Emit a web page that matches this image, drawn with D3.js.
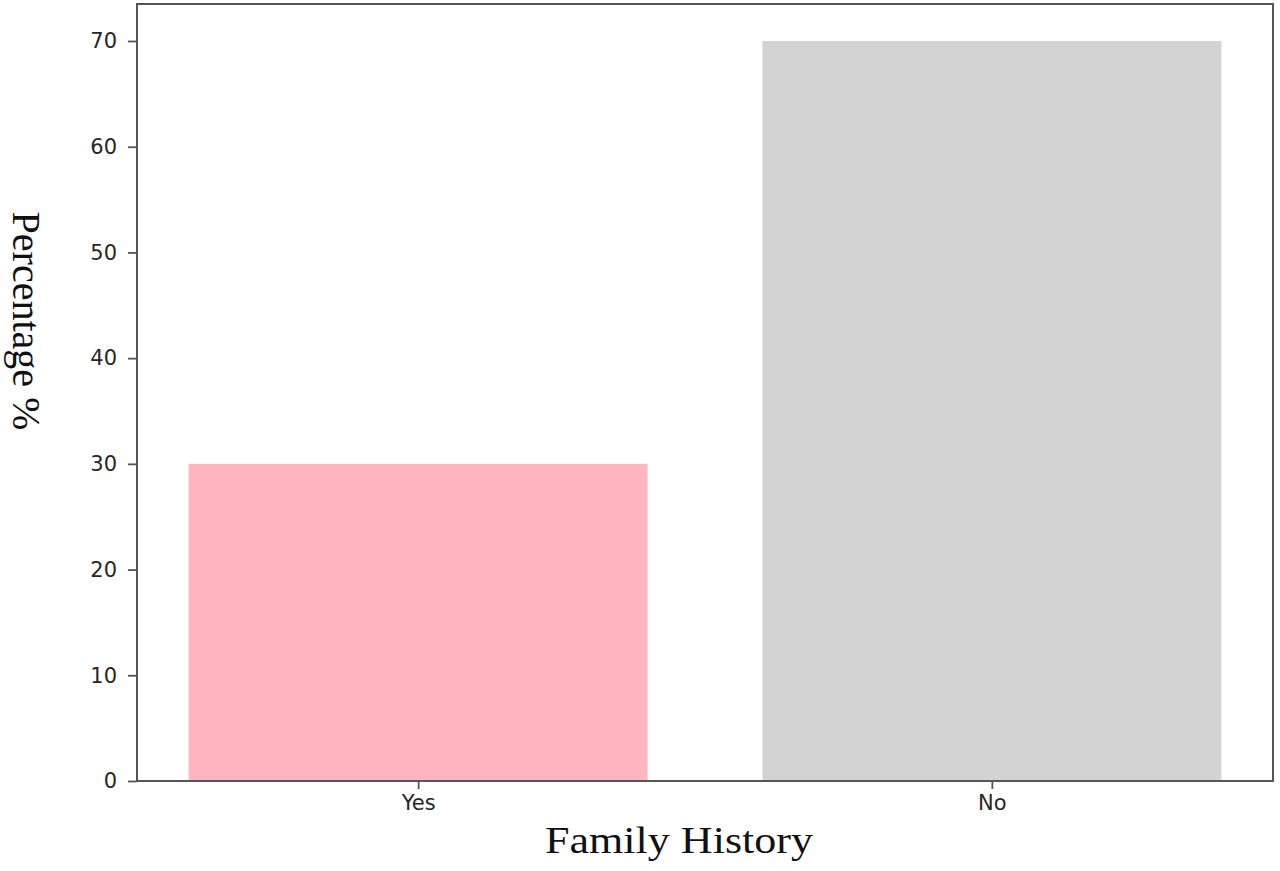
<!DOCTYPE html>
<html>
<head>
<meta charset="utf-8">
<script src="https://cdn.jsdelivr.net/npm/d3@7"></script>
<style>
    body { margin: 0; background: #fff; }
    .tick text { font-family: "DejaVu Sans", sans-serif; fill: #262626; }
</style>
</head>
<body>
<div id="chart"></div>
<script>
const categories = ["Yes", "No"];
const percentages = [30, 70];
const barColors = ["#ffb6c1", "#d3d3d3"];
const yTicks = [0, 10, 20, 30, 40, 50, 60, 70];

// layout
const margin = ({ top: 4, right: 7, bottom: 90, left: 137 })
const width = 1280 - margin.left - margin.right,
    height = 871 - margin.top - margin.bottom;

let svg = d3.select("#chart").append("svg")
    .attr("width", 1280)
    .attr("height", 871)
    .append("g")
    .attr("transform", "translate(" + margin.left + "," + margin.top + ")");

// matplotlib-like limits: bar width 0.8, 5% margins
let xScale = d3.scaleLinear()
    .domain([-0.49, categories.length - 1 + 0.49])
    .range([0, width])

let yScale = d3.scaleLinear()
    .domain([0, d3.max(percentages) * 1.05])
    .range([height, 0])

const barWidth = 0.8;

svg.selectAll(".bar")
    .data(percentages)
    .enter()
    .append("rect")
    .attr("class", "bar")
    .attr("x", (d, i) => xScale(i - barWidth / 2))
    .attr("width", xScale(barWidth) - xScale(0))
    .attr("y", d => yScale(d))
    .attr("height", d => yScale(0) - yScale(d))
    .attr("fill", (d, i) => barColors[i])

let yAxis = d3.axisLeft(yScale)
    .tickValues(yTicks)
    .tickSize(9)
    .tickPadding(11)

let xAxis = d3.axisBottom(xScale)
    .tickValues(d3.range(categories.length))
    .tickFormat(i => categories[i])
    .tickSize(8)
    .tickPadding(6)

svg.append("g")
    .attr("class", "axis y-axis")
    .call(yAxis)
    .call(g => g.select(".domain").remove())
    .call(g => g.selectAll(".tick line").attr("stroke", "#555").attr("stroke-width", 1.8))
    .call(g => g.selectAll(".tick text").attr("font-size", 21));

svg.append("g")
    .attr("class", "axis x-axis")
    .attr("transform", `translate(0, ${height})`)
    .call(xAxis)
    .call(g => g.select(".domain").remove())
    .call(g => g.selectAll(".tick line").attr("stroke", "#555").attr("stroke-width", 1.8))
    .call(g => g.selectAll(".tick text").attr("font-size", 21));

// frame
svg.append("rect")
    .attr("width", width)
    .attr("height", height)
    .attr("fill", "none")
    .attr("stroke", "#555")
    .attr("stroke-width", 2)

// axis titles
svg.append("text")
    .attr("x", 679 - margin.left)
    .attr("y", 853 - margin.top)
    .attr("text-anchor", "middle")
    .attr("font-family", "'Liberation Serif', 'Times New Roman', serif")
    .attr("font-size", 38)
    .attr("textLength", 268)
    .attr("lengthAdjust", "spacingAndGlyphs")
    .attr("fill", "#111")
    .text("Family History")

svg.append("text")
    .attr("transform", `translate(${13 - margin.left}, ${321 - margin.top}) rotate(90)`)
    .attr("text-anchor", "middle")
    .attr("font-family", "'Liberation Serif', 'Times New Roman', serif")
    .attr("font-size", 40)
    .attr("fill", "#111")
    .text("Percentage %")
</script>
</body>
</html>
